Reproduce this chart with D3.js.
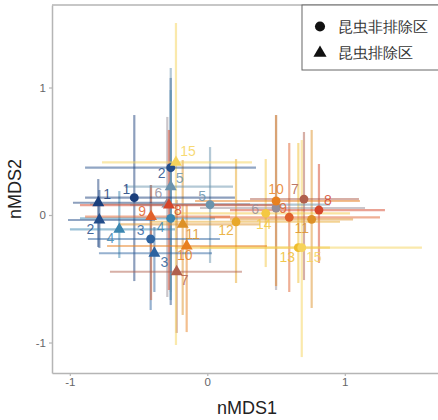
<!DOCTYPE html>
<html>
<head>
<meta charset="utf-8">
<script src="https://cdn.jsdelivr.net/npm/d3@7"></script>
<style>
body { margin: 0; background: #fff; }
text { font-family: "Liberation Sans", Arial, sans-serif; }
</style>
</head>
<body>
<div id="chart"></div>
<script>
var margin = {top: 5, right: -4, bottom: 47, left: 52},
    width = 438 - margin.left - margin.right,
    height = 420 - margin.top - margin.bottom;

// plot numbers and colours
var plotIds = [1, 2, 3, 4, 5, 6, 7, 8, 9, 10, 11, 12, 13, 14, 15];
var plotColors = ["#1b3f7c", "#234d8a", "#2e63a0", "#3a86b0", "#6a93ad", "#958d98", "#b0604d",
                  "#d6452a", "#e0602b", "#e8801f", "#dd9128", "#e8a82a", "#efbd2e", "#f4c843", "#f6d35a"];

// 昆虫非排除区 (circles)
var openIds  = [1, 2, 3, 4, 5, 6, 7, 8, 9, 10, 11, 12, 13, 14, 15];
var openX    = [-0.531, -0.266, -0.412, -0.266, 0.020, 0.500, 0.703, 0.812, 0.596, 0.500, 0.759, 0.209, 0.662, 0.425, 0.687];
var openY    = [0.136, 0.371, -0.188, -0.026, 0.081, 0.055, 0.125, 0.039, -0.018, 0.110, -0.034, -0.053, -0.256, 0.013, -0.256];
var openXmin = [-0.889, -0.889, -0.868, -0.926, -0.562, -0.053, 0.311, 0.165, 0.020, -0.089, 0.165, -0.417, -0.235, -0.235, -0.053];
var openXmax = [0.201, 0.354, 0.092, 0.056, 0.892, 1.147, 1.103, 1.292, 1.256, 1.110, 1.060, 0.965, 0.892, 1.038, 1.561];
var openYmin = [-0.518, -0.706, -0.745, -0.667, -0.376, -0.588, -0.510, -0.376, -0.604, -0.557, -0.729, -0.533, -0.533, -0.408, -1.114];
var openYmax = [0.784, 1.075, 0.235, 0.980, 0.533, 0.784, 0.651, 0.400, 0.565, 0.784, 0.667, 0.439, 0.565, 0.439, 0.588];

// 昆虫排除区 (triangles)
var exclIds  = [1, 2, 3, 4, 5, 6, 7, 8, 9, 10, 11, 15];
var exclX    = [-0.793, -0.785, -0.385, -0.640, -0.266, -0.291, -0.223, -0.279, -0.409, -0.150, -0.179, -0.228];
var exclY    = [0.096, -0.039, -0.300, -0.112, 0.222, 0.086, -0.445, 0.078, -0.013, -0.243, -0.073, 0.413];
var exclXmin = [-0.977, -1.013, -0.788, -0.999, -0.599, -0.853, -0.708, -0.926, -0.889, -0.729, -0.635, -0.766];
var exclXmax = [-0.308, -0.380, 0.034, -0.235, 0.187, 0.311, 0.252, 0.529, 0.165, 0.434, 0.383, 0.325];
var exclYmin = [-0.251, -0.259, -0.604, -0.337, -0.604, -0.643, -0.925, -0.588, -0.667, -0.918, -0.784, -1.020];
var exclYmax = [0.282, 0.196, -0.094, 0.188, 1.153, 0.769, 0.118, 0.667, 0.235, 0.078, 0.431, 1.506];

var xTicks = [-1, 0, 1];
var yTicks = [-1, 0, 1];
var legendLabels = ["昆虫非排除区", "昆虫排除区"];

// label nudges in px (like ggrepel placement)
var openNudgeX = [-8, -9, -10, -10, -8, -21, -9, 9, -6, 0, -10, -10, -11, -2, 12];
var openNudgeY = [-9, 5, -9, 9, -9, 1, -10, -10, -9, -12, 9, 8, 9, 11, 9];
var exclNudgeX = [9, -9, 10, -9, 9, -9, 8, 9, -9, -2, 10, 12];
var exclNudgeY = [-9, 9, 9, 9, -9, -11, 8, 5, -6, 9, 10, -11];

function build(ids, xs, ys, xmin, xmax, ymin, ymax, nx, ny, shape) {
    return ids.map(function(id, i) {
        return {id: id, x: xs[i], y: ys[i], xmin: xmin[i], xmax: xmax[i],
                ymin: ymin[i], ymax: ymax[i], nx: nx[i], ny: ny[i], shape: shape};
    });
}

var data = build(openIds, openX, openY, openXmin, openXmax, openYmin, openYmax, openNudgeX, openNudgeY, "circle")
    .concat(build(exclIds, exclX, exclY, exclXmin, exclXmax, exclYmin, exclYmax, exclNudgeX, exclNudgeY, "triangle"));

var color = d3.scaleOrdinal().domain(plotIds).range(plotColors);

var svg = d3.select("#chart")
    .append("svg")
        .attr("width", 438)
        .attr("height", 420)
    .append("g")
        .attr("transform", "translate(" + margin.left + "," + margin.top + ")");

var x = d3.scaleLinear()
        .domain([-1.1295, 1.7069])
        .range([0, width]);

var y = d3.scaleLinear()
        .domain([-1.239, 1.647])
        .range([height, 0]);

// panel top line
svg.append("line")
    .attr("x1", 0).attr("x2", width)
    .attr("y1", 0).attr("y2", 0)
    .attr("stroke", "#b5b5b5").attr("stroke-width", 1.5);

var fmt = function(d) { return String(d); };

var xAxis = svg.append("g")
    .attr("class", "x-axis")
    .attr("transform", "translate(0," + height + ")")
    .call(d3.axisBottom(x).tickValues(xTicks).tickFormat(fmt).tickSize(3).tickSizeOuter(0).tickPadding(2));

var yAxis = svg.append("g")
    .attr("class", "y-axis")
    .call(d3.axisLeft(y).tickValues(yTicks).tickFormat(fmt).tickSize(3).tickSizeOuter(0).tickPadding(3));

[xAxis, yAxis].forEach(function(a) {
    a.select(".domain").attr("stroke", "#b5b5b5").attr("stroke-width", 1.5);
    a.selectAll(".tick line").attr("stroke", "#b5b5b5").attr("stroke-width", 1.2);
    a.selectAll(".tick text").attr("fill", "#666").attr("font-size", 11.5)
        .attr("font-family", "'Liberation Sans', Arial, sans-serif");
});

// error bars
var bars = svg.append("g").attr("class", "errorbars");

bars.selectAll(".vbar")
    .data(data)
  .enter().append("line")
    .attr("class", "vbar")
    .attr("x1", function(d) { return x(d.x); })
    .attr("x2", function(d) { return x(d.x); })
    .attr("y1", function(d) { return y(d.ymin); })
    .attr("y2", function(d) { return y(d.ymax); })
    .attr("stroke", function(d) { return color(d.id); })
    .attr("stroke-width", 2.2)
    .attr("stroke-opacity", 0.5);

bars.selectAll(".hbar")
    .data(data)
  .enter().append("line")
    .attr("class", "hbar")
    .attr("x1", function(d) { return x(d.xmin); })
    .attr("x2", function(d) { return x(d.xmax); })
    .attr("y1", function(d) { return y(d.y); })
    .attr("y2", function(d) { return y(d.y); })
    .attr("stroke", function(d) { return color(d.id); })
    .attr("stroke-width", 2.2)
    .attr("stroke-opacity", 0.5);

// points
var circleSym = d3.symbol().type(d3.symbolCircle).size(62);
var triSym = d3.symbol().type(d3.symbolTriangle).size(62);

svg.selectAll(".pt")
    .data(data)
  .enter().append("path")
    .attr("class", "pt")
    .attr("transform", function(d) { return "translate(" + x(d.x) + "," + y(d.y) + ")"; })
    .attr("d", function(d) { return d.shape === "circle" ? circleSym() : triSym(); })
    .attr("fill", function(d) { return color(d.id); });

// labels
svg.selectAll(".lab")
    .data(data)
  .enter().append("text")
    .attr("class", "lab")
    .attr("x", function(d) { return x(d.x) + d.nx; })
    .attr("y", function(d) { return y(d.y) + d.ny; })
    .attr("dy", "0.36em")
    .attr("text-anchor", "middle")
    .attr("font-size", 14)
    .attr("fill", function(d) { return color(d.id); })
    .attr("fill-opacity", 0.85)
    .text(function(d) { return d.id; });

// axis titles
svg.append("text")
    .attr("x", width / 2)
    .attr("y", height + 41)
    .attr("text-anchor", "middle")
    .attr("font-size", 18)
    .attr("fill", "#222")
    .text("nMDS1");

svg.append("text")
    .attr("transform", "translate(" + (-31) + "," + (height / 2) + ") rotate(-90)")
    .attr("text-anchor", "middle")
    .attr("font-size", 18)
    .attr("fill", "#222")
    .text("nMDS2");

// legend
var legend = svg.append("g")
    .attr("transform", "translate(" + x(0.6887) + ",0)");

legend.append("rect")
    .attr("x", 0).attr("y", 0)
    .attr("width", 150).attr("height", 65)
    .attr("fill", "#fff")
    .attr("stroke", "#666").attr("stroke-width", 1);

var legendShapes = [d3.symbol().type(d3.symbolCircle).size(80)(), d3.symbol().type(d3.symbolTriangle).size(75)()];

legendLabels.forEach(function(lab, i) {
    legend.append("path")
        .attr("transform", "translate(18," + (21.5 + i * 26.5) + ")")
        .attr("d", legendShapes[i])
        .attr("fill", "#111");
    legend.append("text")
        .attr("x", 36)
        .attr("y", 21.5 + i * 26.5)
        .attr("dy", "0.36em")
        .attr("font-size", 14.5)
        .attr("font-family", "'Noto Sans CJK JP', sans-serif")
        .attr("fill", "#333")
        .text(lab);
});
</script>
</body>
</html>
